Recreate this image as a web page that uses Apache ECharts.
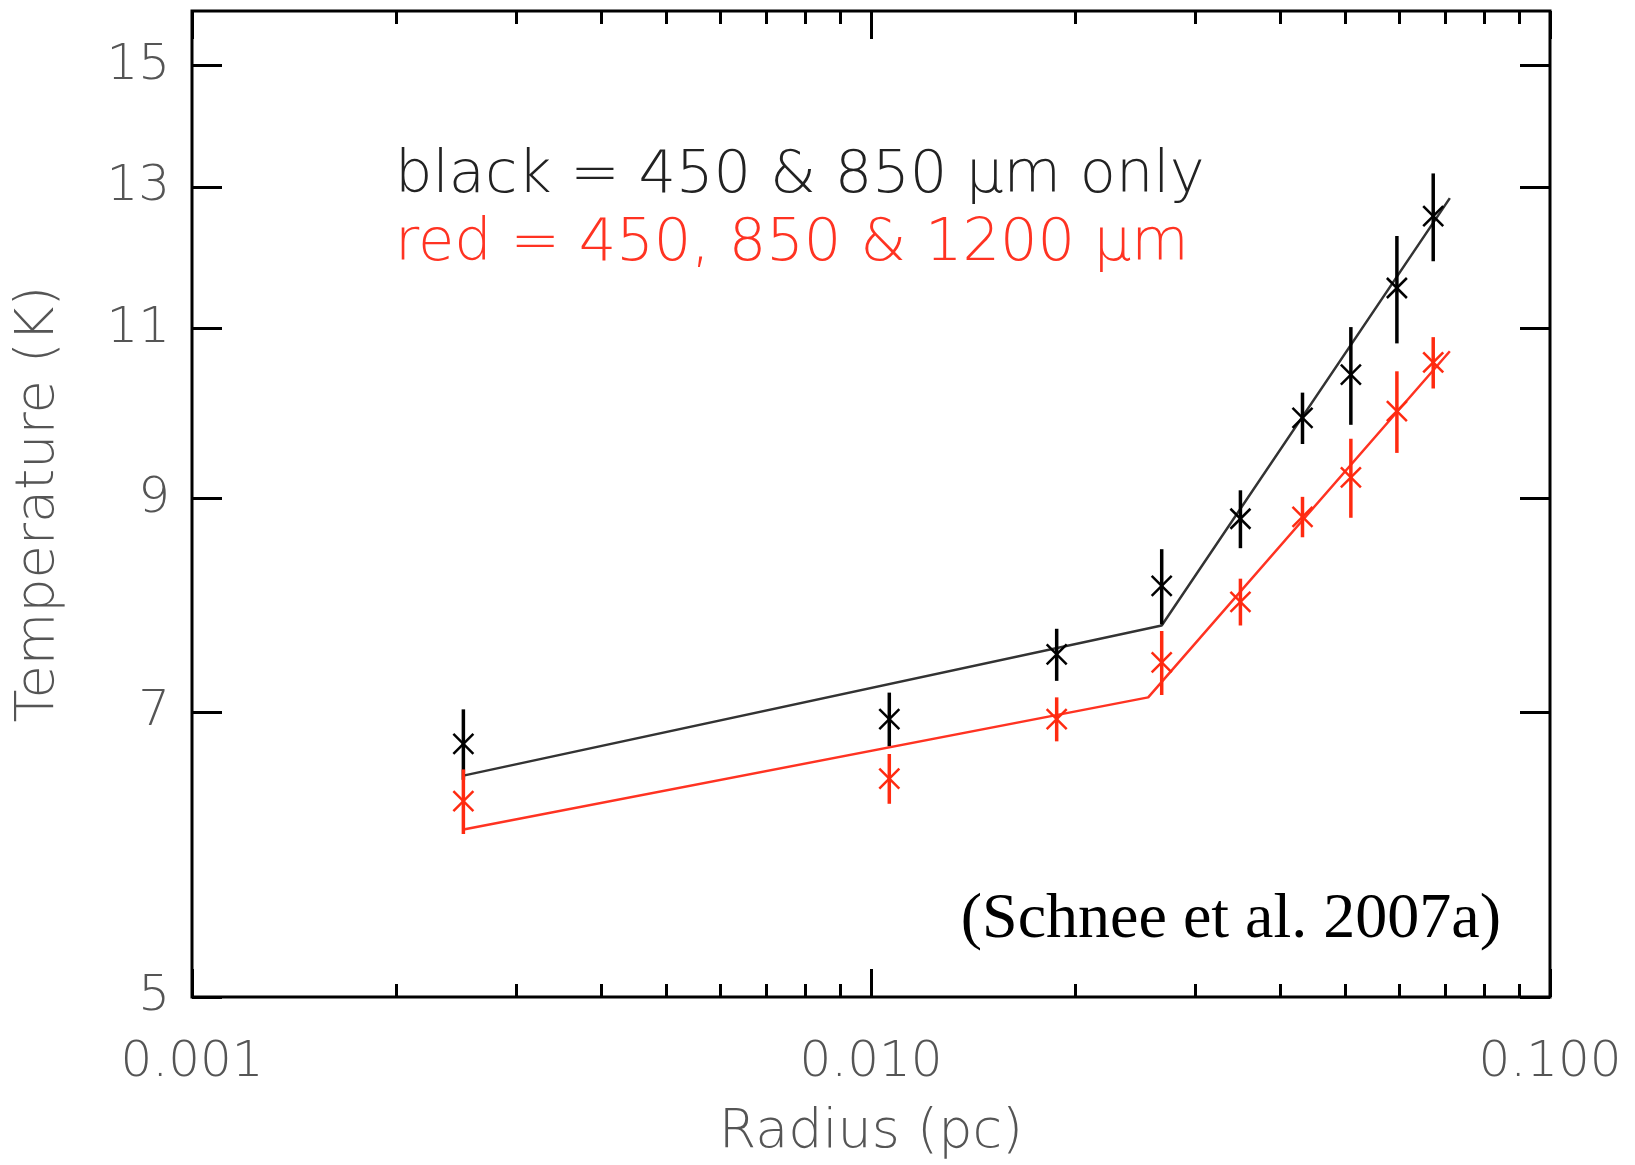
<!DOCTYPE html>
<html>
<head>
<meta charset="utf-8">
<script src="https://cdn.jsdelivr.net/npm/echarts@6/dist/echarts.min.js"></script>
<style>
html,body{margin:0;padding:0;background:#fff;}
#chart{width:1635px;height:1165px;}
</style>
</head>
<body>
<div id="chart"></div>
<script>
// ---- data ----
const radius    = [0.00251, 0.01064, 0.01877, 0.0268, 0.0350, 0.0432, 0.0509, 0.0595, 0.0673];
const tempBlack = [6.74, 6.94, 7.49, 8.12, 8.79, 9.90, 10.42, 11.54, 12.56];
const errBlack  = [0.28, 0.22, 0.23, 0.36, 0.30, 0.30, 0.60, 0.73, 0.65];
const tempRed   = [6.30, 6.47, 6.94, 7.42, 7.97, 8.81, 9.23, 9.98, 10.57];
const errRed    = [0.24, 0.19, 0.18, 0.28, 0.22, 0.21, 0.43, 0.48, 0.32];
const fitBlackR = [0.0025, 0.0268, 0.0712];
const fitBlackT = [6.49, 7.75, 12.83];
const fitRedR   = [0.0025, 0.0256, 0.0712];
const fitRedT   = [6.09, 7.12, 10.71];
const yTicks    = [5, 7, 9, 11, 13, 15];
const xMinor    = [0.002,0.003,0.004,0.005,0.006,0.007,0.008,0.009,0.02,0.03,0.04,0.05,0.06,0.07,0.08,0.09];
const legendBlack = 'black = 450 & 850 \u03bcm only';
const legendRed   = 'red = 450, 850 & 1200 \u03bcm';
const citation    = '(Schnee et al. 2007a)';

const LBL = {fontFamily:'DejaVu Sans', fontWeight:200, color:'#555'};
const tickStyle = {color:'#000', width:3};

function pts(t, e){ return radius.map((r,i)=>[r, t[i], e[i]]); }
function line(rs, ts){ return rs.map((r,i)=>[r, ts[i]]); }
function errRender(color){
  return function(params, api){
    const x = api.value(0), y = api.value(1), e = api.value(2);
    const c = api.coord([x,y]), t = api.coord([x,y+e]), b = api.coord([x,y-e]);
    const s = 10;
    return {type:'group', children:[
      {type:'line', shape:{x1:t[0],y1:t[1],x2:b[0],y2:b[1]}, style:{stroke:color, lineWidth:3.5}},
      {type:'line', shape:{x1:c[0]-s,y1:c[1]-s,x2:c[0]+s,y2:c[1]+s}, style:{stroke:color, lineWidth:2.5}},
      {type:'line', shape:{x1:c[0]-s,y1:c[1]+s,x2:c[0]+s,y2:c[1]-s}, style:{stroke:color, lineWidth:2.5}}
    ]};
  };
}

const xBase = {type:'log', logBase:10, min:0.001, max:0.1, splitLine:{show:false}, axisLine:{show:false}};
const yBase = {type:'log', logBase:10, min:5, max:16, splitLine:{show:false}, axisLine:{show:false}};

const chart = echarts.init(document.getElementById('chart'), null, {renderer:'canvas'});
chart.setOption({
  backgroundColor:'#fff',
  animation:false,
  grid:{left:192, right:85, top:11, bottom:166, show:true, borderColor:'#000', borderWidth:3, backgroundColor:'transparent'},
  xAxis:[
    Object.assign({}, xBase, {position:'bottom',
      axisTick:{inside:true, length:28, lineStyle:tickStyle},
      axisLabel:Object.assign({fontSize:50, margin:41, showMinLabel:true, showMaxLabel:true,
        formatter:(v)=>Number(v).toFixed(3)}, LBL),
      name:'Radius (pc)', nameLocation:'middle', nameGap:109,
      nameTextStyle:Object.assign({fontSize:54}, LBL)}),
    Object.assign({}, xBase, {position:'bottom',
      axisTick:{inside:true, length:13, lineStyle:tickStyle, customValues:xMinor},
      axisLabel:{show:false}}),
    Object.assign({}, xBase, {position:'top',
      axisTick:{inside:true, length:28, lineStyle:tickStyle}, axisLabel:{show:false}}),
    Object.assign({}, xBase, {position:'top',
      axisTick:{inside:true, length:13, lineStyle:tickStyle, customValues:xMinor},
      axisLabel:{show:false}})
  ],
  yAxis:[
    Object.assign({}, yBase, {position:'left',
      axisTick:{inside:true, length:30, lineStyle:tickStyle, customValues:yTicks},
      axisLabel:Object.assign({fontSize:50, margin:22, customValues:yTicks}, LBL),
      name:'Temperature (K)', nameLocation:'middle', nameGap:126,
      nameTextStyle:Object.assign({fontSize:54}, LBL)}),
    Object.assign({}, yBase, {position:'right',
      axisTick:{inside:true, length:30, lineStyle:tickStyle, customValues:yTicks},
      axisLabel:{show:false}})
  ],
  series:[
    {type:'line', xAxisIndex:0, yAxisIndex:0, data:line(fitBlackR, fitBlackT), showSymbol:false, symbol:'none',
      lineStyle:{color:'#333', width:2.5}, z:2},
    {type:'custom', xAxisIndex:0, yAxisIndex:0, data:pts(tempBlack, errBlack), encode:{x:0, y:1},
      renderItem:errRender('#000'), z:3},
    {type:'line', xAxisIndex:0, yAxisIndex:0, data:line(fitRedR, fitRedT), showSymbol:false, symbol:'none',
      lineStyle:{color:'#ff3322', width:2.5}, z:4},
    {type:'custom', xAxisIndex:0, yAxisIndex:0, data:pts(tempRed, errRed), encode:{x:0, y:1},
      renderItem:errRender('#ff2a10'), z:5}
  ],
  graphic:[
    {type:'text', x:395, y:177, style:{text:legendBlack, font:'200 59px "DejaVu Sans"', fill:'#222', verticalAlign:'middle'}},
    {type:'text', x:395, y:245, style:{text:legendRed, font:'200 59px "DejaVu Sans"', fill:'#ff3322', verticalAlign:'middle'}},
    {type:'text', x:1501, y:920, style:{text:citation, font:'64px "Liberation Serif"', fill:'#000', align:'right', verticalAlign:'middle'}}
  ]
});
</script>
</body>
</html>
